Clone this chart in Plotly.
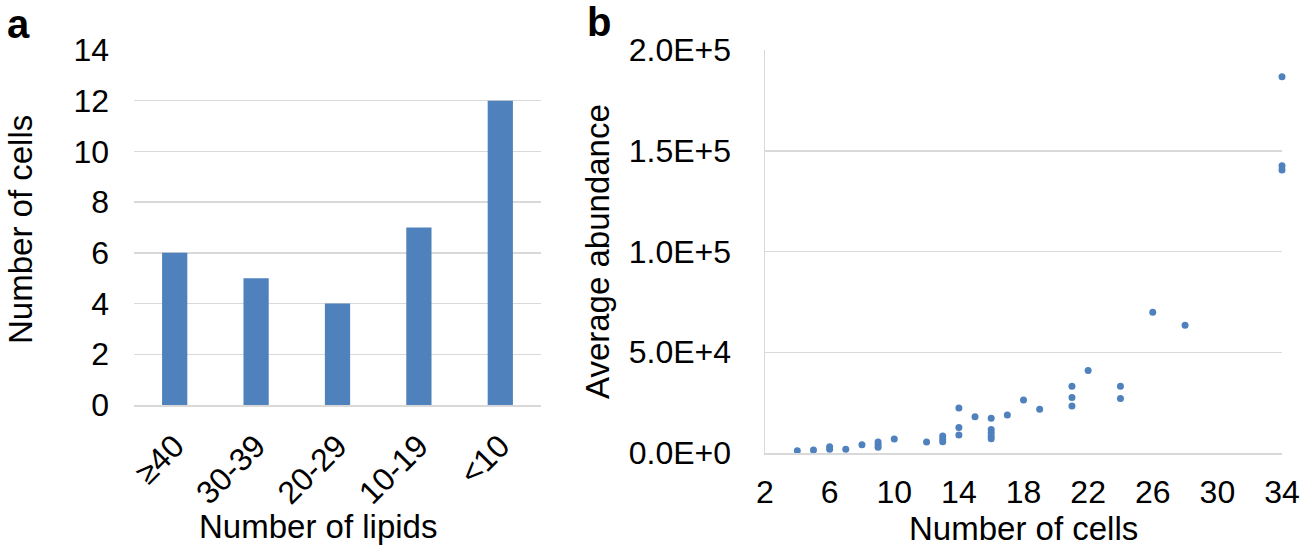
import plotly.graph_objects as go

# Panel a data
lipid_bins = ["≥40", "30-39", "20-29", "10-19", "<10"]
cells_per_bin = [6, 5, 4, 7, 12]

# Panel b data
num_cells = [4, 5, 6, 6, 7, 8, 9, 9, 9, 10, 12, 13, 13, 13, 14, 14, 14, 15,
             16, 16, 16, 16, 16, 17, 18, 19, 21, 21, 21, 22, 24, 24, 26, 28, 34, 34, 34]
avg_abundance = [1100, 1500, 3100, 1800, 1800, 4100, 5500, 4100, 2800, 6900, 5500,
                 8400, 6900, 5600, 22300, 12600, 8900, 18000,
                 17200, 11700, 10100, 8400, 7100, 18900, 26300, 21700,
                 33100, 27600, 23300, 41000, 33100, 27100, 69800, 63400,
                 186700, 142600, 140400]

a_yticks = [0, 2, 4, 6, 8, 10, 12, 14]
b_xticks = [2, 6, 10, 14, 18, 22, 26, 30, 34]
b_yticks = [0, 50000, 100000, 150000, 200000]
b_yticklabels = ["0.0E+0", "5.0E+4", "1.0E+5", "1.5E+5", "2.0E+5"]

BLUE = "#4F81BD"
GRID = "#D9D9D9"
FONT = "Liberation Sans, Arial, sans-serif"
W, H = 1305, 551
TICK = 32
TITLE = 33


def px(x):
    return x / W


def py(y):
    return 1 - y / H


fig = go.Figure()
fig.add_trace(go.Bar(x=lipid_bins, y=cells_per_bin, marker_color=BLUE,
                     marker_line_width=0, width=0.31, xaxis="x", yaxis="y"))
fig.add_trace(go.Scatter(x=num_cells, y=avg_abundance, mode="markers",
                         marker=dict(color=BLUE, size=7), xaxis="x2", yaxis="y2",
                         cliponaxis=False))

fig.update_layout(
    width=W, height=H,
    margin=dict(l=0, r=0, t=0, b=0),
    paper_bgcolor="white", plot_bgcolor="white",
    showlegend=False,
    font=dict(family=FONT, size=TICK, color="#000"),
    xaxis=dict(domain=[px(134), px(541)], anchor="y", tickangle=-45,
               showline=True, linecolor=GRID, linewidth=1.5, ticks="",
               showgrid=False, tickfont=dict(size=TICK), automargin=False,
               ticklabelstandoff=8),
    yaxis=dict(domain=[py(405), py(50)], anchor="x", range=[0, 14],
               tickvals=a_yticks, showgrid=True, gridcolor=GRID, gridwidth=1.5,
               zeroline=False, showline=False, ticks="", tickfont=dict(size=TICK),
               ticklabelstandoff=24, automargin=False),
    xaxis2=dict(domain=[px(765), px(1282)], anchor="y2", range=[2, 34],
                tickvals=b_xticks, showgrid=False, zeroline=False,
                showline=True, linecolor=GRID, linewidth=1.5, ticks="",
                tickfont=dict(size=TICK), automargin=False, ticklabelstandoff=10,
                ticklabeloverflow="allow"),
    yaxis2=dict(domain=[py(453), py(50)], anchor="x2", range=[0, 200000],
                tickvals=b_yticks, ticktext=b_yticklabels, showgrid=True,
                gridcolor=GRID, gridwidth=1.5, zeroline=False, showline=True,
                linecolor=GRID, linewidth=1.5, ticks="", tickfont=dict(size=TICK),
                ticklabelstandoff=26, automargin=False),
    annotations=[
        dict(text="<b>a</b>", x=px(18), y=py(24), xref="paper", yref="paper",
             xanchor="center", yanchor="middle", showarrow=False, font=dict(size=40)),
        dict(text="<b>b</b>", x=px(599), y=py(22), xref="paper", yref="paper",
             xanchor="center", yanchor="middle", showarrow=False, font=dict(size=40)),
        dict(text="Number of cells", x=px(21), y=py(230), xref="paper", yref="paper",
             textangle=-90, xanchor="center", yanchor="middle", showarrow=False,
             font=dict(size=TITLE)),
        dict(text="Number of lipids", x=px(318), y=py(526), xref="paper", yref="paper",
             xanchor="center", yanchor="middle", showarrow=False, font=dict(size=TITLE)),
        dict(text="Average abundance", x=px(598), y=py(252), xref="paper", yref="paper",
             textangle=-90, xanchor="center", yanchor="middle", showarrow=False,
             font=dict(size=TITLE)),
        dict(text="Number of cells", x=px(1023), y=py(528), xref="paper", yref="paper",
             xanchor="center", yanchor="middle", showarrow=False, font=dict(size=TITLE)),
    ],
)

fig.write_html(
    "out.html",
    config={"displayModeBar": False, "staticPlot": True},
    post_script="document.body.style.margin='0';document.body.style.overflow='hidden';",
)
